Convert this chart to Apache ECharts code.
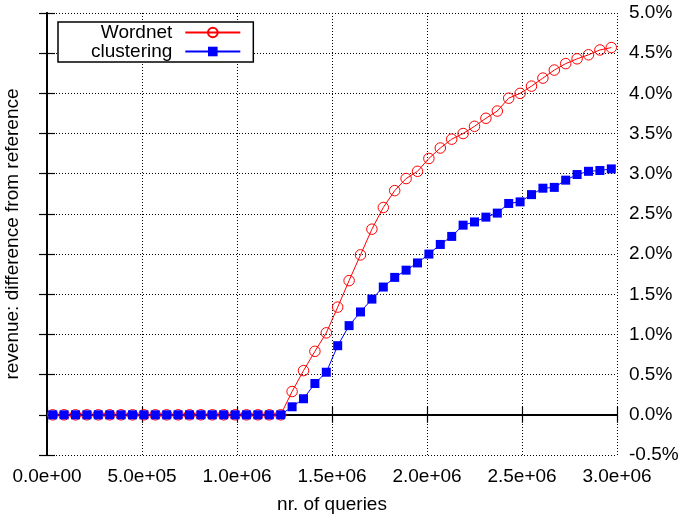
<!DOCTYPE html>
<html>
<head>
<meta charset="utf-8">
<script src="https://cdn.jsdelivr.net/npm/echarts@6/dist/echarts.min.js"></script>
<style>
  html, body { margin: 0; padding: 0; background: #fff; }
  #chart { width: 681px; height: 519px; }
</style>
</head>
<body>
<div id="chart"></div>
<script>
// Number of queries at each measurement
const queries = [
  30000, 90000, 150000, 210000, 270000, 330000, 390000, 450000, 510000, 570000,
  630000, 690000, 750000, 810000, 870000, 930000, 990000, 1050000, 1110000, 1170000,
  1230000, 1290000, 1350000, 1410000, 1470000, 1530000, 1590000, 1650000, 1710000, 1770000,
  1830000, 1890000, 1950000, 2010000, 2070000, 2130000, 2190000, 2250000, 2310000, 2370000,
  2430000, 2490000, 2550000, 2610000, 2670000, 2730000, 2790000, 2850000, 2910000, 2970000
];

// Revenue difference from reference, in percent
const wordnet = [
  0, 0, 0, 0, 0, 0, 0, 0, 0, 0,
  0, 0, 0, 0, 0, 0, 0, 0, 0, 0,
  0, 0.29, 0.55, 0.79, 1.02, 1.34, 1.67, 1.99, 2.31, 2.58,
  2.79, 2.94, 3.03, 3.19, 3.32, 3.43, 3.50, 3.59, 3.69, 3.78,
  3.94, 4.00, 4.09, 4.19, 4.29, 4.37, 4.43, 4.48, 4.54, 4.57
];
const clustering = [
  0, 0, 0, 0, 0, 0, 0, 0, 0, 0,
  0, 0, 0, 0, 0, 0, 0, 0, 0, 0,
  0, 0.10, 0.20, 0.39, 0.53, 0.86, 1.11, 1.28, 1.44, 1.59,
  1.71, 1.80, 1.89, 2.00, 2.12, 2.22, 2.36, 2.40, 2.46, 2.51,
  2.63, 2.65, 2.74, 2.82, 2.83, 2.92, 2.99, 3.03, 3.04, 3.06
];

const seriesNames = ['Wordnet', 'clustering'];
const xTitle = 'nr. of queries';
const yTitle = 'revenue: difference from reference';

const FONT = 'Liberation Sans, Helvetica, Arial, sans-serif';

function sci(v) {
  // gnuplot-style mantissa with two-digit exponent, e.g. 5.0e+05
  if (v === 0) return '0.0e+00';
  const e = Math.floor(Math.log10(Math.abs(v)) + 1e-9);
  const m = v / Math.pow(10, e);
  const es = (e < 0 ? '-' : '+') + String(Math.abs(e)).padStart(2, '0');
  return m.toFixed(1) + 'e' + es;
}

const pairs = (xs, ys) => xs.map((x, i) => [x, ys[i]]);

const dotted = { color: '#000', width: 1, type: [1, 2] };
const frame = { show: true, lineStyle: { color: '#000', width: 1.8 } };
const innerTick = { show: true, inside: true, length: 8, lineStyle: { color: '#000', width: 1.2 } };

const chart = echarts.init(document.getElementById('chart'), null, { renderer: 'canvas' });
chart.setOption({
  animation: false,
  backgroundColor: '#fff',
  textStyle: { fontFamily: FONT },
  grid: { left: 47, top: 13, width: 570, height: 442, containLabel: false, outerBoundsMode: 'none' },
  legend: {
    data: [
      { name: seriesNames[0] },
      { name: seriesNames[1] }
    ],
    orient: 'vertical',
    align: 'right',
    left: 58,
    top: 22,
    itemWidth: 55,
    itemHeight: 12,
    itemGap: 0,
    padding: [1, 12, 1, 33],
    backgroundColor: '#fff',
    borderColor: '#000',
    borderWidth: 1.5,
    borderRadius: 0,
    textStyle: { fontFamily: FONT, fontSize: 19, color: '#000', lineHeight: 19, padding: [0, 8, 0, 0] },
    selectedMode: false
  },
  xAxis: [
    {
      type: 'value', position: 'bottom', min: 0, max: 3000000, interval: 500000,
      name: xTitle, nameLocation: 'middle', nameGap: 40,
      nameTextStyle: { fontFamily: FONT, fontSize: 19, color: '#000' },
      axisLine: frame, axisTick: innerTick,
      axisLabel: { formatter: sci, fontFamily: FONT, fontSize: 19, color: '#000', margin: 12 },
      splitLine: { show: true, lineStyle: dotted }
    },
    {
      type: 'value', position: 'top', min: 0, max: 3000000, interval: 500000,
      axisLine: frame, axisTick: innerTick, axisLabel: { show: false }, splitLine: { show: false }
    }
  ],
  yAxis: [
    {
      type: 'value', position: 'right', min: -0.5, max: 5, interval: 0.5,
      axisLine: frame, axisTick: innerTick,
      axisLabel: { formatter: v => v.toFixed(1) + '%', fontFamily: FONT, fontSize: 19, color: '#000', margin: 12 },
      splitLine: { show: true, lineStyle: dotted }
    },
    {
      type: 'value', position: 'left', min: -0.5, max: 5, interval: 0.5,
      name: yTitle, nameLocation: 'middle', nameGap: 25, nameRotate: 90,
      nameTextStyle: { fontFamily: FONT, fontSize: 19, color: '#000' },
      axisLine: frame, axisTick: innerTick, axisLabel: { show: false }, splitLine: { show: false }
    }
  ],
  series: [
    {
      name: 'zero', type: 'line', silent: true, symbol: 'none', z: 1,
      data: [[0, 0], [3000000, 0]],
      lineStyle: { color: '#000', width: 1.5 }
    },
    {
      name: seriesNames[0], type: 'line', z: 2,
      data: pairs(queries, wordnet),
      symbol: 'circle', symbolSize: 10.5,
      itemStyle: { color: 'rgba(0,0,0,0)', borderColor: '#ff0000', borderWidth: 1 },
      lineStyle: { color: '#ff0000', width: 1 }
    },
    {
      name: seriesNames[1], type: 'line', z: 3,
      data: pairs(queries, clustering),
      symbol: 'rect', symbolSize: 9,
      itemStyle: { color: '#0000ff' },
      lineStyle: { color: '#0000ff', width: 1 }
    }
  ]
});
</script>
</body>
</html>
